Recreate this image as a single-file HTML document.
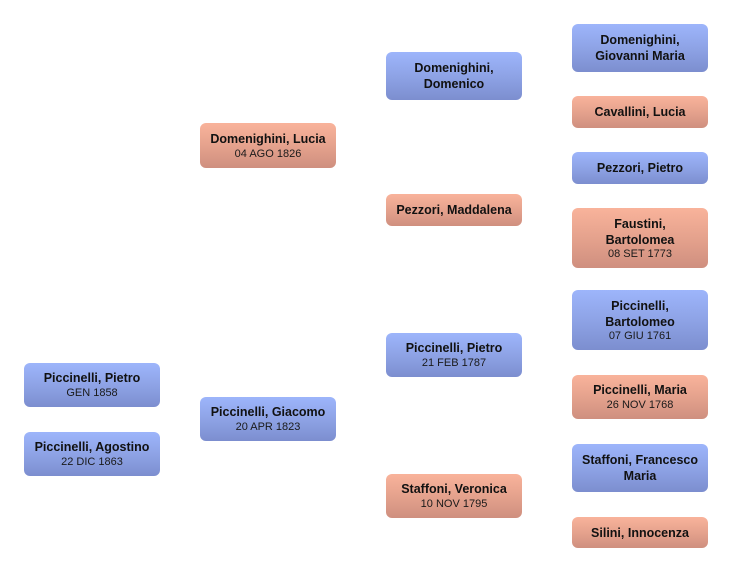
<!DOCTYPE html>
<html><head><meta charset="utf-8">
<style>
html,body{margin:0;padding:0;background:#fff;}
body{width:732px;height:572px;position:relative;overflow:hidden;font-family:"Liberation Sans",Arial,sans-serif;}
.b{position:absolute;width:136px;box-sizing:border-box;border-radius:6px;display:flex;flex-direction:column;justify-content:center;align-items:center;text-align:center;color:#111;}
.m{background:linear-gradient(to bottom,#9db5fb 0%,#8ea3e6 50%,#7c8ecf 100%);}
.f{background:linear-gradient(to bottom,#f9b39b 0%,#e5a28d 50%,#cf8f7f 100%);}
.n{font-weight:bold;font-size:12.5px;line-height:16px;}
.d{font-size:11px;line-height:13px;margin-top:1px;color:#1a1a1a;}
</style></head><body>
<div class="b m" style="left:24px;top:363px;height:44px;"><div class="n">Piccinelli, Pietro</div><div class="d">GEN 1858</div></div>
<div class="b m" style="left:24px;top:432px;height:44px;"><div class="n">Piccinelli, Agostino</div><div class="d">22 DIC 1863</div></div>

<div class="b f" style="left:200px;top:123px;height:45px;"><div class="n">Domenighini, Lucia</div><div class="d">04 AGO 1826</div></div>
<div class="b m" style="left:200px;top:397px;height:44px;"><div class="n">Piccinelli, Giacomo</div><div class="d">20 APR 1823</div></div>

<div class="b m" style="left:386px;top:52px;height:48px;"><div class="n">Domenighini,<br>Domenico</div></div>
<div class="b f" style="left:386px;top:194px;height:32px;"><div class="n">Pezzori, Maddalena</div></div>
<div class="b m" style="left:386px;top:333px;height:44px;"><div class="n">Piccinelli, Pietro</div><div class="d">21 FEB 1787</div></div>
<div class="b f" style="left:386px;top:474px;height:44px;"><div class="n">Staffoni, Veronica</div><div class="d">10 NOV 1795</div></div>

<div class="b m" style="left:572px;top:24px;height:48px;"><div class="n">Domenighini,<br>Giovanni Maria</div></div>
<div class="b f" style="left:572px;top:96px;height:32px;"><div class="n">Cavallini, Lucia</div></div>
<div class="b m" style="left:572px;top:152px;height:32px;"><div class="n">Pezzori, Pietro</div></div>
<div class="b f" style="left:572px;top:208px;height:60px;"><div class="n">Faustini,<br>Bartolomea</div><div class="d" style="margin-top:0">08 SET 1773</div></div>
<div class="b m" style="left:572px;top:290px;height:60px;"><div class="n">Piccinelli,<br>Bartolomeo</div><div class="d" style="margin-top:0">07 GIU 1761</div></div>
<div class="b f" style="left:572px;top:375px;height:44px;"><div class="n">Piccinelli, Maria</div><div class="d">26 NOV 1768</div></div>
<div class="b m" style="left:572px;top:444px;height:48px;"><div class="n">Staffoni, Francesco<br>Maria</div></div>
<div class="b f" style="left:572px;top:517px;height:31px;"><div class="n">Silini, Innocenza</div></div>
</body></html>
